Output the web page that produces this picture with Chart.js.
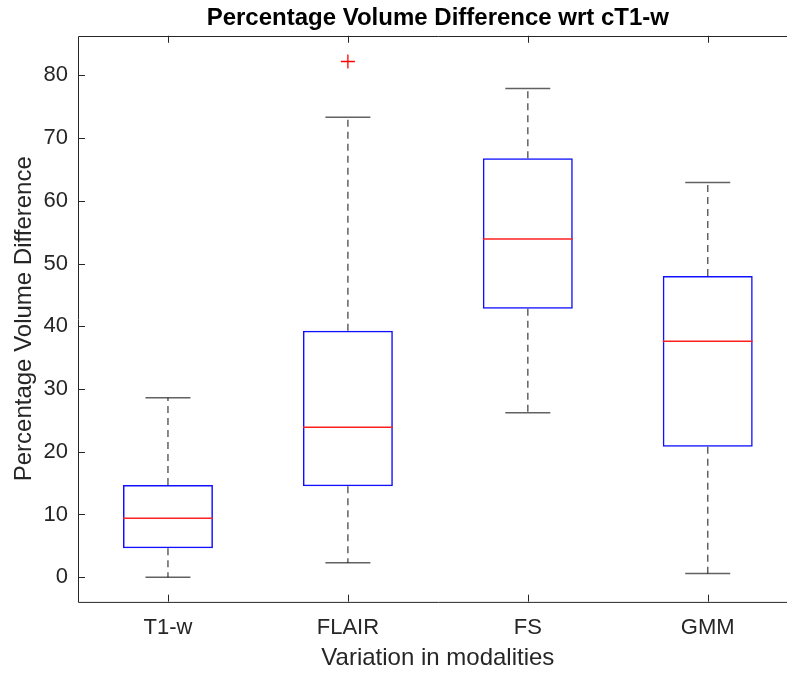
<!DOCTYPE html>
<html>
<head>
<meta charset="utf-8">
<script src="https://cdn.jsdelivr.net/npm/chart.js@4.4.0/dist/chart.umd.min.js"></script>
<style>
  html, body { margin: 0; padding: 0; overflow: hidden; background: #fff; }
  #wrap { width: 806px; height: 675px; }
  #chart { width: 806px; height: 675px; max-width: none; }
</style>
</head>
<body>
<div id="wrap"><canvas id="chart" width="806" height="675"></canvas></div>
<script>
var categories = ['T1-w', 'FLAIR', 'FS', 'GMM'];
var whiskerLow = [0, 2.3, 26.2, 0.6];
var q1 = [4.6, 14.5, 42.8, 20.8];
var medians = [9.4, 23.9, 53.9, 37.6];
var q3 = [14.7, 39.3, 66.8, 48.0];
var whiskerHigh = [28.6, 73.3, 77.9, 62.9];
var outliers = [null, 82.2, null, null];
var yTicks = [0, 10, 20, 30, 40, 50, 60, 70, 80];

var FONT = "'Liberation Sans', Arial, Helvetica, sans-serif";
var AXIS = '#262626';

// whiskers, caps and medians, placed through the chart scales
var boxPlot = {
  id: 'boxPlot',
  afterDatasetsDraw: function (chart) {
    var ctx = chart.ctx, x = chart.scales.x, y = chart.scales.y;
    var step = x.getPixelForValue(1) - x.getPixelForValue(0);
    ctx.save();
    categories.forEach(function (c, i) {
      var cx = x.getPixelForValue(i);
      var capHalf = step * 0.125, boxHalf = step * 0.25;
      ctx.strokeStyle = 'rgba(0,0,0,0.62)';
      ctx.lineWidth = 1.5;
      ctx.setLineDash([7, 5]);
      ctx.beginPath();
      ctx.moveTo(cx, y.getPixelForValue(q3[i]));
      ctx.lineTo(cx, y.getPixelForValue(whiskerHigh[i]));
      ctx.moveTo(cx, y.getPixelForValue(q1[i]));
      ctx.lineTo(cx, y.getPixelForValue(whiskerLow[i]));
      ctx.stroke();
      ctx.setLineDash([]);
      ctx.beginPath();
      ctx.moveTo(cx - capHalf, y.getPixelForValue(whiskerHigh[i]));
      ctx.lineTo(cx + capHalf, y.getPixelForValue(whiskerHigh[i]));
      ctx.moveTo(cx - capHalf, y.getPixelForValue(whiskerLow[i]));
      ctx.lineTo(cx + capHalf, y.getPixelForValue(whiskerLow[i]));
      ctx.stroke();
      ctx.strokeStyle = '#ff2020';
      ctx.lineWidth = 1.5;
      ctx.beginPath();
      ctx.moveTo(cx - boxHalf, y.getPixelForValue(medians[i]));
      ctx.lineTo(cx + boxHalf, y.getPixelForValue(medians[i]));
      ctx.stroke();
    });
    ctx.restore();
  }
};

// matlab style frame with inward ticks
var frame = {
  id: 'frame',
  afterDraw: function (chart) {
    var ctx = chart.ctx, a = chart.chartArea, x = chart.scales.x, y = chart.scales.y;
    var t = 7;
    ctx.save();
    ctx.strokeStyle = AXIS;
    ctx.lineWidth = 1;
    ctx.beginPath();
    ctx.rect(Math.round(a.left) + 0.5, Math.round(a.top) + 0.5, a.right - a.left, a.bottom - a.top);
    categories.forEach(function (c, i) {
      var px = Math.round(x.getPixelForValue(i)) + 0.5;
      ctx.moveTo(px, a.bottom); ctx.lineTo(px, a.bottom - t);
      ctx.moveTo(px, a.top); ctx.lineTo(px, a.top + t);
    });
    yTicks.forEach(function (v) {
      var py = Math.round(y.getPixelForValue(v)) + 0.5;
      ctx.moveTo(a.left, py); ctx.lineTo(a.left + t, py);
      ctx.moveTo(a.right, py); ctx.lineTo(a.right - t, py);
    });
    ctx.stroke();
    ctx.restore();
  }
};

var ctx = document.getElementById('chart').getContext('2d');
var chart = new Chart(ctx, {
  type: 'bar',
  data: {
    labels: categories,
    datasets: [{
      data: q1.map(function (v, i) { return [v, q3[i]]; }),
      backgroundColor: 'rgba(0,0,0,0)',
      borderColor: '#1010ff',
      borderWidth: 1.5,
      borderSkipped: false,
      barPercentage: 0.5,
      categoryPercentage: 1
    }, {
      type: 'line',
      data: outliers,
      showLine: false,
      pointStyle: 'cross',
      pointRadius: 7,
      pointBorderColor: '#ff0000',
      pointBackgroundColor: '#ff0000',
      pointBorderWidth: 1.3,
      borderColor: '#ff0000'
    }]
  },
  plugins: [boxPlot, frame],
  options: {
    responsive: false,
    animation: false,
    events: [],
    layout: { padding: { right: 3 } },
    plugins: {
      legend: { display: false },
      tooltip: { enabled: false },
      title: {
        display: true,
        text: 'Percentage Volume Difference wrt cT1-w',
        fullSize: false,
        color: '#000',
        font: { family: FONT, size: 24, weight: 'bold' },
        padding: { top: 4, bottom: 3 }
      }
    },
    scales: {
      x: {
        offset: true,
        grid: { display: false, drawTicks: false },
        border: { display: false },
        ticks: { color: AXIS, font: { family: FONT, size: 22 }, padding: 13, maxRotation: 0 },
        title: {
          display: true, text: 'Variation in modalities', color: AXIS,
          font: { family: FONT, size: 24 }, padding: { top: 0, bottom: 2 }
        },
        afterFit: function (s) { s.height = 73.3; s.paddingLeft = 0; s.paddingRight = 0; }
      },
      y: {
        min: -3.9,
        max: 86.3,
        afterBuildTicks: function (s) { s.ticks = yTicks.map(function (v) { return { value: v }; }); },
        grid: { display: false, drawTicks: false },
        border: { display: false },
        ticks: { color: AXIS, font: { family: FONT, size: 22 }, padding: 10 },
        title: {
          display: true, text: 'Percentage Volume Difference', color: AXIS,
          font: { family: FONT, size: 24 }, padding: { top: 10, bottom: 0 }
        },
        afterFit: function (s) { s.width = 78; }
      }
    }
  }
});
</script>
</body>
</html>
